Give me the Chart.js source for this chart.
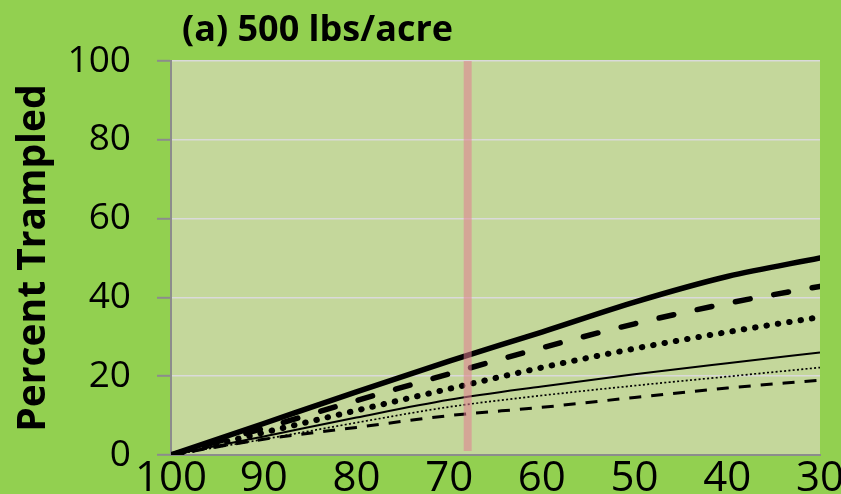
<!DOCTYPE html>
<html lang="en">
<head>
    <meta charset="UTF-8">
    <title>Percent Trampled</title>
    <style>
        body { margin: 0; background: #92D050; }
        canvas { display: block; }
    </style>
</head>
<body>
    <canvas id="myChart" width="841" height="494"></canvas>

    <script src="https://cdn.jsdelivr.net/npm/chart.js"></script>
    <script>
        // values (x axis runs 100 -> 30)
        var xValues = [100, 90, 80, 70, 60, 50, 40, 30];
        var thickSolid = [0, 8, 16, 23.8, 31.2, 38.8, 45.3, 50];
        var thickDashed = [0, 6.8, 13.8, 20.6, 27.2, 33.3, 38.5, 42.8];
        var thickDotted = [0, 5.7, 11.3, 16.8, 22.2, 27, 31.2, 35];
        var thinSolid = [0, 4.7, 9.5, 14, 17.4, 20.5, 23.3, 26];
        var thinDotted = [0, 4, 8.2, 12.2, 15.1, 17.6, 19.9, 22.2];
        var thinDashed = [0, 4, 7, 10, 12.1, 14.6, 17, 19];

        var markerX = [68, 68];
        var markerY = [1, 100];

        var TITLE = "(a) 500 lbs/acre";
        var Y_TITLE = "Percent Trampled";
        var FONT = "'Open Sans', 'DejaVu Sans', sans-serif";

        function pts(ys) {
            return ys.map((y, i) => ({x: xValues[i], y: y}));
        }

        function line(ys, width, dash, cap) {
            return {
                data: pts(ys),
                borderColor: "#000000",
                borderWidth: width,
                borderDash: dash,
                borderCapStyle: cap || "butt",
                pointRadius: 0,
                cubicInterpolationMode: "monotone",
                order: 1
            };
        }

        var backgrounds = {
            id: "backgrounds",
            beforeDraw(chart) {
                const ctx = chart.ctx;
                const a = chart.chartArea;
                ctx.save();
                ctx.fillStyle = "#92D050";
                ctx.fillRect(0, 0, chart.width, chart.height);
                ctx.fillStyle = "#C4D79B";
                ctx.fillRect(a.left, a.top, a.right - a.left, a.bottom - a.top);
                ctx.restore();
            },
            afterDraw(chart) {
                const ctx = chart.ctx;
                ctx.save();
                ctx.fillStyle = "#000000";
                ctx.font = "bold 36px " + FONT;
                ctx.textBaseline = "alphabetic";
                ctx.textAlign = "left";
                ctx.fillText(TITLE, chart.chartArea.left + 11, 41);
                ctx.restore();
            }
        };

        var chart = new Chart("myChart", {
            type: "line",
            data: {
                datasets: [
                    {
                        data: markerX.map((x, i) => ({x: x, y: markerY[i]})),
                        borderColor: "rgba(225,125,145,0.55)",
                        borderWidth: 8,
                        pointRadius: 0,
                        order: 0
                    },
                    line(thickSolid, 5.5, [], "round"),
                    line(thickDashed, 5.5, [15, 24], "round"),
                    line(thickDotted, 6, [0.5, 11], "round"),
                    line(thinSolid, 2, []),
                    line(thinDotted, 1.7, [2, 2.3]),
                    line(thinDashed, 3, [12, 10])
                ]
            },
            options: {
                responsive: false,
                animation: false,
                layout: { padding: { top: 61, right: 21, left: 0, bottom: 0 } },
                plugins: {
                    legend: { display: false },
                    tooltip: { enabled: false }
                },
                scales: {
                    x: {
                        type: "linear",
                        reverse: true,
                        min: 30,
                        max: 100,
                        grid: { display: false, drawTicks: false },
                        border: { display: true, color: "#8c8c8c", width: 2 },
                        ticks: {
                            stepSize: 10,
                            padding: 3,
                            maxRotation: 0,
                            autoSkip: false,
                            color: "#000000",
                            font: { family: FONT, size: 42, lineHeight: 1 }
                        },
                        afterFit(scale) {
                            scale.height = 39;
                            scale.paddingLeft = 0;
                            scale.paddingRight = 0;
                        }
                    },
                    y: {
                        min: 0,
                        max: 100,
                        grid: {
                            color: c => (c.tick && c.tick.value === 0) ? "rgba(0,0,0,0)" : "#dadada",
                            lineWidth: 1.6,
                            tickColor: "#8c8c8c",
                            tickWidth: 2,
                            tickLength: 14
                        },
                        border: { display: true, color: "#8c8c8c", width: 2 },
                        ticks: {
                            stepSize: 20,
                            padding: 26,
                            color: "#000000",
                            font: { family: FONT, size: 37, lineHeight: 1 }
                        },
                        title: {
                            display: true,
                            text: Y_TITLE,
                            color: "#000000",
                            padding: { top: 10, bottom: 0 },
                            font: { family: FONT, size: 39, weight: "bold", lineHeight: 1.2 }
                        },
                        afterFit(scale) {
                            scale.width = 171;
                            scale.paddingTop = 0;
                            scale.paddingBottom = 0;
                        }
                    }
                }
            },
            plugins: [backgrounds]
        });
    </script>
</body>
</html>
